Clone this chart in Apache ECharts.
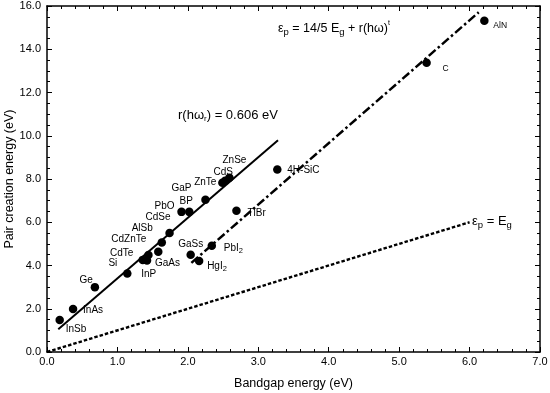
<!DOCTYPE html>
<html>
<head>
<meta charset="utf-8">
<script src="https://cdn.jsdelivr.net/npm/echarts@6/dist/echarts.min.js"></script>
<style>html,body{margin:0;padding:0;background:#fff;}#c{width:550px;height:393px;}</style>
</head>
<body>
<div id="c"></div>
<script>
// ---- data ----
const materials = ['InSb','InAs','Ge','Si','InP','GaAs','CdTe','CdZnTe','AlSb','CdSe','PbO','BP','GaP','ZnTe','CdS','ZnSe','GaSs','HgI2','PbI2','TlBr','4H-SiC','C','AlN'];
const bandgap   = [0.18,0.37,0.68,1.14,1.36,1.42,1.44,1.58,1.63,1.74,1.91,2.02,2.25,2.49,2.53,2.59,2.04,2.16,2.34,2.69,3.27,5.39,6.21];
const pairEnergy= [1.48,1.99,3.00,3.63,4.26,4.23,4.49,4.64,5.06,5.50,6.48,6.48,7.04,7.83,7.92,8.06,4.50,4.21,4.91,6.53,8.44,13.38,15.32];

const fitLineX = [0.16, 3.28];      // r(hw_r) = 0.606 eV line
const fitLineY = [1.05, 9.79];
const upperLineX = [2.05, 6.13];    // 14/5 Eg + r(hw)^t
const upperLineY = [4.12, 15.71];
const eqLineX = [0.0, 6.0];         // ep = Eg
const eqLineY = [0.0, 6.0];

const xTicks = [0, 7, 1];
const yTicks = [0, 16, 2];

// ---- label placement (style, not data) ----
const labelPlace = {
  'InSb':['left',6,9],'InAs':['left',10,1],'Ge':['right',-2,-7],'Si':['right',-10,-10],
  'InP':['center',6,14],'GaAs':['left',8,3],'CdTe':['right',-15,-2],'CdZnTe':['right',-12,-12],
  'AlSb':['right',-9,-14],'CdSe':['right',1,-16],'PbO':['right',-7,-6],'BP':['center',-3,-11],
  'GaP':['right',-14,-12],'ZnTe':['right',-6,0],'CdS':['center',-2,-8],'ZnSe':['center',5,-17],
  'GaSs':['center',0,-10],'HgI2':['left',8,5],'PbI2':['left',12,2],'TlBr':['left',11,2],
  '4H-SiC':['left',10,1],'C':['left',16,6],'AlN':['left',9,5]
};
const smallLabels = {'C':true,'AlN':true};

const FONT = "'Liberation Sans', Arial, Helvetica, sans-serif";

function labelText(n){
  if (n === 'HgI2') return 'HgI{s|2}';
  if (n === 'PbI2') return 'PbI{s|2}';
  return n;
}

const points = materials.map((n,i)=>{
  const p = labelPlace[n];
  return {
    value:[bandgap[i], pairEnergy[i]],
    name:n,
    label:{
      show:true, position:'inside', align:p[0], verticalAlign:'middle',
      offset:[p[1],p[2]], formatter: labelText(n),
      fontSize: smallLabels[n] ? 8.5 : 10, color:'#000', fontFamily:FONT,
      rich:{ s:{fontSize:7.5, fontFamily:FONT, color:'#000', verticalAlign:'bottom', padding:[6,0,0,0]} }
    }
  };
});

function pairs(xs, ys){ return xs.map((x,i)=>[x, ys[i]]); }

const axisCommon = {
  axisLine:{show:true, onZero:false, lineStyle:{color:'#000', width:1.5}},
  axisTick:{show:true, inside:true, length:5, lineStyle:{color:'#000', width:1}},
  minorTick:{show:true, length:3, lineStyle:{color:'#000', width:1}},
  splitLine:{show:false}
};

const chart = echarts.init(document.getElementById('c'), null, {renderer:'canvas'});
chart.setOption({
  animation:false,
  backgroundColor:'#fff',
  grid:{left:47, right:10, top:6, bottom:41, containLabel:false, outerBoundsMode:'none'},
  xAxis:[
    Object.assign({}, axisCommon, {
      type:'value', min:xTicks[0], max:xTicks[1], interval:xTicks[2], position:'bottom',
      minorTick:Object.assign({}, axisCommon.minorTick, {splitNumber:5}),
      axisLabel:{fontSize:11, color:'#000', fontFamily:FONT, margin:4, formatter:v=>v.toFixed(1)},
      name:'Bandgap energy (eV)', nameLocation:'middle', nameGap:25, nameMoveOverlap:false,
      nameTextStyle:{fontSize:12.5, color:'#000', fontFamily:FONT}
    }),
    Object.assign({}, axisCommon, {
      type:'value', min:xTicks[0], max:xTicks[1], interval:xTicks[2], position:'top',
      minorTick:Object.assign({}, axisCommon.minorTick, {splitNumber:5}),
      axisLabel:{show:false}
    })
  ],
  yAxis:[
    Object.assign({}, axisCommon, {
      type:'value', min:yTicks[0], max:yTicks[1], interval:yTicks[2], position:'left',
      minorTick:Object.assign({}, axisCommon.minorTick, {splitNumber:4}),
      axisLabel:{fontSize:11, color:'#000', fontFamily:FONT, margin:6, formatter:v=>v.toFixed(1)},
      name:'Pair creation energy (eV)', nameLocation:'middle', nameGap:31, nameMoveOverlap:false,
      nameTextStyle:{fontSize:12.5, color:'#000', fontFamily:FONT}
    }),
    Object.assign({}, axisCommon, {
      type:'value', min:yTicks[0], max:yTicks[1], interval:yTicks[2], position:'right',
      minorTick:Object.assign({}, axisCommon.minorTick, {splitNumber:4}),
      axisLabel:{show:false}
    })
  ],
  series:[
    {type:'line', data:pairs(fitLineX, fitLineY), showSymbol:false, silent:true,
     lineStyle:{color:'#000', width:2, type:'solid'}, z:2},
    {type:'line', data:pairs(upperLineX, upperLineY), showSymbol:false, silent:true,
     lineStyle:{color:'#000', width:2.5, type:[9,3,2.5,3]}, z:2},
    {type:'line', data:pairs(eqLineX, eqLineY), showSymbol:false, silent:true,
     lineStyle:{color:'#000', width:2.4, type:[3.5,2]}, z:2},
    {type:'scatter', data:points, symbol:'circle', symbolSize:8.5,
     itemStyle:{color:'#000', opacity:1}, z:5}
  ],
  graphic:[
    {type:'text', left:278, top:20, z:10, style:{
      text:'ε{s|p} = 14/5 E{s|g} + r(hω){t|t}', fill:'#000', font:'12.5px '+FONT,
      rich:{s:{fontSize:9.5, fontFamily:FONT, fill:'#000', verticalAlign:'bottom', padding:[7,0,0,0]},
            t:{fontSize:7, fontFamily:FONT, fill:'#000', verticalAlign:'top', padding:[0,0,7,0]}}
    }},
    {type:'text', left:178, top:109, z:10, style:{
      text:'r(hω{s|r}) = 0.606 eV', fill:'#000', font:'13px '+FONT,
      rich:{s:{fontSize:8, fontFamily:FONT, fill:'#000', verticalAlign:'bottom', padding:[7,0,0,0]}}
    }},
    {type:'text', left:472, top:215, z:10, style:{
      text:'ε{s|p} = E{s|g}', fill:'#000', font:'13px '+FONT,
      rich:{s:{fontSize:9.5, fontFamily:FONT, fill:'#000', verticalAlign:'bottom', padding:[7,0,0,0]}}
    }}
  ]
});
</script>
</body>
</html>
